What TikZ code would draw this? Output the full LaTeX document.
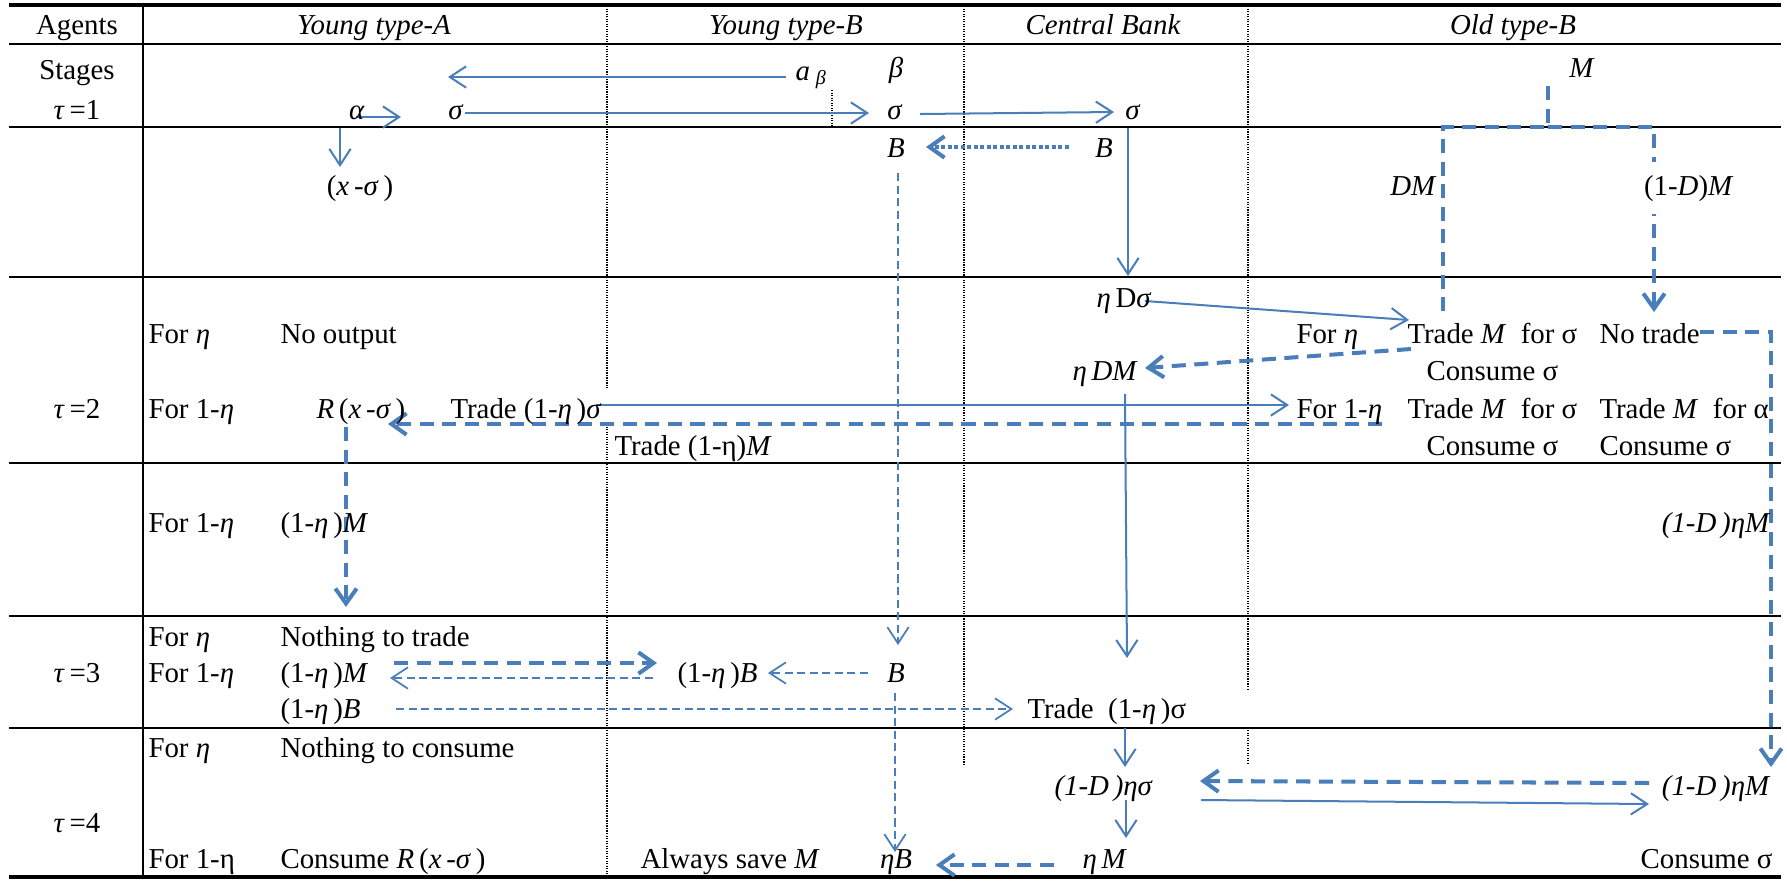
\documentclass[tikz,border=0pt]{standalone}
\usepackage{fontspec}
\setmainfont{Liberation Serif}
\usetikzlibrary{arrows.meta,calc}
\definecolor{ablue}{RGB}{74,126,187}
\pgfdeclarelayer{back}
\pgfsetlayers{back,main}
\begin{document}
\begin{tikzpicture}[x=0.014cm,y=-0.014cm,
  every node/.style={inner sep=0pt,font=\fontsize{11.5}{13}\selectfont},
  lt/.style={anchor=base west},
  ct/.style={anchor=base},
  rt/.style={anchor=base east},
  hd/.style={anchor=base,font=\fontsize{11.5}{13}\selectfont\itshape},
  sol/.style={draw=ablue,line width=0.8pt},
  sarr/.style={sol,-{Straight Barb[length=6.5pt,width=8.5pt]}},
  tdash/.style={draw=ablue,line width=1.6pt,dash pattern=on 5.6pt off 3.4pt},
  tdarr/.style={tdash,-{Straight Barb[length=6pt,width=8.5pt]}},
  ndash/.style={draw=ablue,line width=0.7pt,dash pattern=on 3.2pt off 1.8pt},
  ndarr/.style={ndash,-{Straight Barb[length=6.5pt,width=8.5pt]}},
  bdot/.style={draw=ablue,line width=1.6pt,dash pattern=on 1.6pt off 1pt,-{Straight Barb[length=6pt,width=8.5pt]}},
  rule/.style={line width=0.8pt},
  trule/.style={line width=1.6pt},
  vdot/.style={line width=0.6pt,dash pattern=on 0.5pt off 0.5pt}
]
\useasboundingbox (0,0) rectangle (1787,881);

% ---------- header ----------
\node[ct] (hAg) at (77,34) {Agents};
\node[hd] (hYA) at (374,34) {Young type-A};
\node[hd] (hYB) at (786,34) {Young type-B};
\node[hd] (hCB) at (1103,34) {Central Bank};
\node[hd] (hOB) at (1513,34) {Old type-B};

% ---------- stage labels ----------
\node[ct] (stg) at (77,79) {Stages};
\node[ct] (t1) at (77,119) {\textit{τ}\,=1};
\node[ct] (t2) at (77,418) {\textit{τ}\,=2};
\node[ct] (t3) at (77,682) {\textit{τ}\,=3};
\node[ct] (t4) at (77,832) {\textit{τ}\,=4};

% ---------- Young type-A ----------
\node[ct] (alpha) at (357,119) {\textit{α}};
\node[ct] (sA) at (456,119) {\textit{σ}};
\node[ct] (xs) at (360,195) {(\textit{x}\,-\textit{σ}\,)};
\node[lt] (fA2a) at (148,343) {For \textit{η}};
\node[lt] (noout) at (280,343) {No output};
\node[lt] (fA2b) at (148,418) {For 1-\textit{η}};
\node[lt] (RA) at (316,418) {\textit{R}\,(\textit{x}\,-\textit{σ}\,)};
\node[lt] (trA) at (450,418) {Trade (1-\textit{η}\,)\textit{σ}};
\node[lt] (fA25) at (148,532) {For 1-\textit{η}};
\node[lt] (mA25) at (280,532) {(1-\textit{η}\,)\textit{M}};
\node[lt] (fA3a) at (148,646) {For \textit{η}};
\node[lt] (nothT) at (280,646) {Nothing to trade};
\node[lt] (fA3b) at (148,682) {For 1-\textit{η}};
\node[lt] (mA3) at (280,682) {(1-\textit{η}\,)\textit{M}};
\node[lt] (bA3) at (280,718) {(1-\textit{η}\,)\textit{B}};
\node[lt] (fA4a) at (148,757) {For \textit{η}};
\node[lt] (nothC) at (280,757) {Nothing to consume};
\node[lt] (fA4b) at (148,868) {For 1-η};
\node[lt] (consR) at (280,868) {Consume \textit{R}\,(\textit{x}\,-\textit{σ}\,)};

% ---------- Young type-B ----------
\node[lt] (aB) at (795,80) {\textit{a}\kern2.4pt\raisebox{-1.6pt}{\fontsize{8}{9}\selectfont\textit{β}}};
\node[ct] (betaB) at (896,77) {\textit{β}};
\node[ct] (sB) at (895,119) {\textit{σ}};
\node[ct] (BB1) at (896,157) {\textit{B}};
\node[lt] (trBM) at (614,455) {Trade (1-η)\textit{M}};
\node[lt] (bB3) at (677,682) {(1-\textit{η}\,)\textit{B}};
\node[ct] (BB3) at (896,682) {\textit{B}};
\node[lt] (save) at (640,868) {Always save \textit{M}};
\node[ct] (etaB) at (896,868) {\textit{ηB}};

% ---------- Central Bank ----------
\node[ct] (sC) at (1133,119) {\textit{σ}};
\node[ct] (BC) at (1104,157) {\textit{B}};
\node[lt] (etaDs) at (1096,307) {\textit{η}\,D\textit{σ}};
\node[lt] (etaDM) at (1072,380) {\textit{η\,DM}};
\node[lt] (trC) at (1027,718) {Trade~ (1-\textit{η}\,)σ};
\node[lt] (dns) at (1054,795) {\textit{(1-D\,)ησ}};
\node[lt] (etaM) at (1082,868) {\textit{η\,M}};

% ---------- Old type-B ----------
\node[ct] (MO) at (1582,77) {\textit{M}};
\node[rt] (DM) at (1437,195) {\textit{DM}};
\node[lt,fill=white,inner xsep=1pt,inner ysep=5pt] (omD) at (1641,195) {(1-\textit{D})\textit{M}};
\node[lt] (fOa) at (1296,343) {For \textit{η}};
\node[lt] (tmsA) at (1407,343) {Trade \textit{M}~ for σ};
\node[lt] (notr) at (1599,343) {No trade};
\node[lt] (consA) at (1426,380) {Consume σ};
\node[lt] (fOb) at (1296,418) {For 1-\textit{η}};
\node[lt] (tmsB) at (1407,418) {Trade \textit{M}~ for σ};
\node[lt] (tmaB) at (1599,418) {Trade \textit{M}~ for α};
\node[lt] (consB) at (1426,455) {Consume σ};
\node[lt] (consC) at (1599,455) {Consume σ};
\node[rt] (dnM1) at (1771,532) {\textit{(1-D\,)ηM}};
\node[rt] (dnM2) at (1771,795) {\textit{(1-D\,)ηM}};
\node[rt] (consO) at (1773,868) {Consume σ};

\coordinate (tipAB) at (448,77);

\begin{pgfonlayer}{back}
% ---------- table rules ----------
\draw[trule] (9,5) -- (1781,5);
\foreach \yy in {44,127,277,463,616,728} \draw[rule] (9,\yy) -- (1781,\yy);
\draw[trule] (9,877) -- (1781,877);
\draw[rule] (142.7,5) -- (142.7,877);
\draw[vdot] (607,6) -- (607,388);
\draw[vdot] (607,424) -- (607,876);
\draw[vdot] (964,6) -- (964,765);
\draw[vdot] (1248,6) -- (1248,690);
\draw[vdot] (1248,730) -- (1248,765);
\draw[vdot] (832,90) -- (832,126);

% ---------- connectors ----------
\draw[sarr] ($(aB.base west)+(-9,-3)$) -- (tipAB);
\draw[sarr] ($(alpha.base)+(-1,-2)$) -- ($(sA.base)+(-55,-2)$);
\draw[sarr] ($(alpha.base)+(-17,9)$) -- ($(xs.base)+(-20,-28)$);
\draw[sarr] ($(sA.base)+(9,-6)$) -- ($(sB.base)+(-26,-6)$);
\draw[sarr] ($(sB.base)+(25,-5)$) -- ($(sC.base)+(-19,-7)$);
\draw[sarr] ($(sC.base)+(-5,9)$) -- ($(etaDs.base west)+(32,-31)$);
\draw[bdot] ($(BC.base)+(-35,-10)$) -- ($(BB1.base)+(30,-10)$);
\draw[ndarr] ($(BB1.base)+(2,16)$) -- ($(BB3.base)+(2,-37)$);
\draw[tdash] ($(MO.base)+(-34,9)$) -- ++(0,41) -| ($(tmsA.base west)+(36,-31)$);
\draw[tdarr] ($(MO.base)+(-34,50)$) -| ($(notr.base west)+(55,-31)$);
\draw[sarr] ($(etaDs.base west)+(49,-6)$) -- ($(tmsA.base west)+(2,-23)$);
\draw[tdarr] ($(tmsA.base west)+(4,6)$) -- ($(etaDM.base west)+(73,-12)$);
\draw[sarr] ($(etaDM.base west)+(53,14)$) -- ($(trC.base west)+(100,-60)$);
\draw[sarr] ($(trA.base west)+(146,-13)$) -- ($(fOb.base west)+(-7,-13)$);
\draw[tdarr] ($(fOb.base west)+(86,6)$) -- ($(RA.base west)+(72,6)$);
\draw[tdarr] ($(RA.base west)+(30,9)$) -- ($(nothT.base west)+(66,-39)$);
\draw[tdarr] ($(mA3.base west)+(114,-19)$) -- ($(bB3.base west)+(-20,-19)$);
\draw[ndarr] ($(bB3.base west)+(-24,-4)$) -- ($(mA3.base west)+(110,-4)$);
\draw[ndarr] ($(BB3.base)+(-28,-9)$) -- ($(bB3.base west)+(91,-9)$);
\draw[ndarr] ($(bA3.base west)+(116,-9)$) -- ($(trC.base west)+(-14,-9)$);
\draw[sarr] ($(trC.base west)+(98,10)$) -- ($(dns.base west)+(71,-28)$);
\draw[sarr] ($(dns.base west)+(72,5)$) -- ($(etaM.base west)+(44,-30)$);
\draw[tdarr] ($(etaM.base west)+(-28,-3)$) -- ($(etaB.base)+(40,-3)$);
\draw[ndarr] ($(BB3.base)+(-1,11)$) -- ($(etaB.base)+(-1,-16)$);
\draw[tdarr] ($(dnM2.base east)+(-122,-12)$) -- ($(dns.base west)+(146,-14)$);
\draw[sarr] ($(dns.base west)+(147,5)$) -- ($(dnM2.base east)+(-122,9)$);
\draw[tdarr] ($(notr.base west)+(101,-11)$) -| ($(dnM2.base east)+(0,-28)$);
\end{pgfonlayer}
\end{tikzpicture}
\end{document}
